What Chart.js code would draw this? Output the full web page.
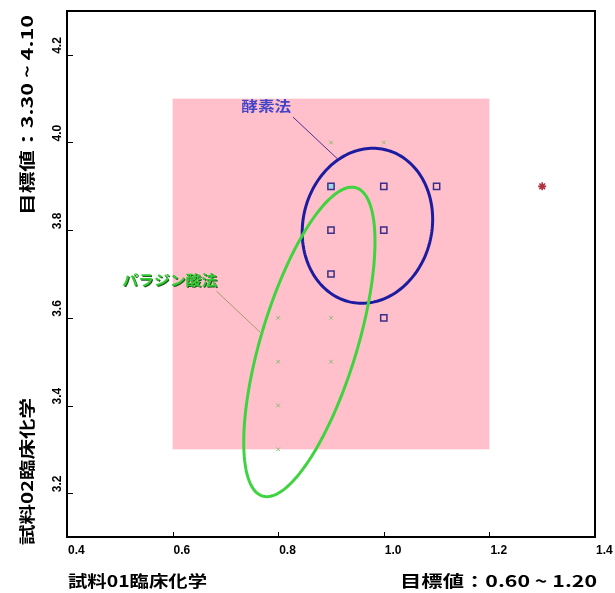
<!DOCTYPE html>
<html>
<head>
<meta charset="utf-8">
<script src="https://cdn.jsdelivr.net/npm/chart.js@4.4.1/dist/chart.umd.min.js"></script>
<style>
  html, body { margin: 0; padding: 0; background: #fff; }
  canvas { display: block; }
</style>
</head>
<body>
<canvas id="c" width="615" height="593"></canvas>
<script>
// Axis ticks
const xTicks = [0.4, 0.6, 0.8, 1.0, 1.2, 1.4];
const yTicks = [3.2, 3.4, 3.6, 3.8, 4.0, 4.2];

// 酵素法 results (試料01, 試料02)
const enzymeX = [0.9, 1.0, 1.1, 0.9, 1.0, 0.9, 1.0];
const enzymeY = [3.9, 3.9, 3.9, 3.8, 3.8, 3.7, 3.6];

// パラジン酸法 results
const acidX = [0.9, 1.0, 0.8, 0.9, 0.8, 0.9, 0.8, 0.8];
const acidY = [4.0, 4.0, 3.6, 3.6, 3.5, 3.5, 3.4, 3.3];

// other method
const otherX = [1.3];
const otherY = [3.9];

// target ranges
const targetX = [0.60, 1.20];
const targetY = [3.30, 4.10];

// distribution ellipses: centre, semi-axis to the top point, horizontal conjugate semi-axis
const enzymeEllipse = [0.969, 3.810, 0.0104, 0.1768, 0.1231];
const acidEllipse   = [0.859, 3.545, 0.0805, 0.3530, 0.0947];

const toPts = (xs, ys) => xs.map((v, i) => ({ x: v, y: ys[i] }));

const CJK = '"Noto Sans CJK JP", "Noto Sans", sans-serif';

// draws text squeezed/stretched to a given width
function fitText(ctx, text, x, y, width, rot) {
  const w = ctx.measureText(text).width;
  ctx.save();
  ctx.translate(x, y);
  if (rot) ctx.rotate(rot);
  ctx.scale(width / w, 1);
  ctx.fillText(text, 0, 0);
  ctx.restore();
}

function drawEllipse(ctx, xs, ys, e, color, lw) {
  const [cx, cy, ax, ay, bx] = e;
  ctx.save();
  ctx.strokeStyle = color;
  ctx.lineWidth = lw;
  ctx.beginPath();
  const n = 180;
  for (let i = 0; i <= n; i++) {
    const t = (i / n) * Math.PI * 2;
    const px = xs.getPixelForValue(cx + ax * Math.cos(t) + bx * Math.sin(t));
    const py = ys.getPixelForValue(cy + ay * Math.cos(t));
    if (i === 0) ctx.moveTo(px, py); else ctx.lineTo(px, py);
  }
  ctx.closePath();
  ctx.stroke();
  ctx.restore();
}

const overlay = {
  id: 'overlay',
  beforeDatasetsDraw(chart) {
    const { ctx, scales: { x, y } } = chart;
    const l = x.getPixelForValue(targetX[0]), r = x.getPixelForValue(targetX[1]);
    const t = y.getPixelForValue(targetY[1]), b = y.getPixelForValue(targetY[0]);
    ctx.save();
    ctx.fillStyle = '#ffc0cb';
    ctx.fillRect(l, t, r - l, b - t);
    ctx.restore();
  },
  afterDatasetsDraw(chart) {
    const { ctx, chartArea: a, scales: { x, y } } = chart;

    drawEllipse(ctx, x, y, enzymeEllipse, '#1c1ca0', 3);
    drawEllipse(ctx, x, y, acidEllipse, '#3fd43f', 3);

    // leader lines
    ctx.save();
    ctx.lineWidth = 1;
    ctx.strokeStyle = '#4a2f8f';
    ctx.beginPath();
    ctx.moveTo(x.getPixelForValue(0.828), y.getPixelForValue(4.058));
    ctx.lineTo(x.getPixelForValue(0.912), y.getPixelForValue(3.963));
    ctx.stroke();
    ctx.strokeStyle = '#a8986c';
    ctx.beginPath();
    ctx.moveTo(x.getPixelForValue(0.683), y.getPixelForValue(3.661));
    ctx.lineTo(x.getPixelForValue(0.766), y.getPixelForValue(3.567));
    ctx.stroke();

    // method labels
    ctx.font = 'bold 14px ' + CJK;
    ctx.textAlign = 'left';
    ctx.textBaseline = 'middle';
    ctx.fillStyle = '#4444c8';
    fitText(ctx, '酵素法', x.getPixelForValue(0.730), y.getPixelForValue(4.083), 50);
    ctx.fillStyle = '#1f5a1f';
    fitText(ctx, 'パラジン酸法', x.getPixelForValue(0.5047) + 1, y.getPixelForValue(3.686) + 1, 95);
    ctx.fillStyle = '#33cc33';
    fitText(ctx, 'パラジン酸法', x.getPixelForValue(0.5047), y.getPixelForValue(3.686), 95);
    ctx.restore();

    // frame
    ctx.save();
    ctx.strokeStyle = '#000';
    ctx.lineWidth = 2;
    ctx.strokeRect(a.left, a.top, a.right - a.left, a.bottom - a.top);

    // inward tick marks
    ctx.lineWidth = 1;
    ctx.beginPath();
    xTicks.forEach(v => {
      const px = Math.round(x.getPixelForValue(v)) + 0.5;
      ctx.moveTo(px, a.bottom);
      ctx.lineTo(px, a.bottom - 5);
    });
    yTicks.forEach(v => {
      const py = Math.round(y.getPixelForValue(v)) + 0.5;
      ctx.moveTo(a.left, py);
      ctx.lineTo(a.left + 6, py);
    });
    ctx.stroke();

    // tick labels
    ctx.fillStyle = '#000';
    ctx.font = 'bold 12px "Liberation Sans", Arial, sans-serif';
    ctx.textBaseline = 'middle';
    ctx.textAlign = 'left';
    xTicks.forEach(v => {
      ctx.fillText(v.toFixed(1), x.getPixelForValue(v) + 1, a.bottom + 14);
    });
    yTicks.forEach(v => {
      ctx.save();
      ctx.translate(a.left - 9, y.getPixelForValue(v) - 1);
      ctx.rotate(-Math.PI / 2);
      ctx.fillText(v.toFixed(1), 0, 0);
      ctx.restore();
    });

    // axis titles
    ctx.font = 'bold 16px ' + CJK;
    ctx.textBaseline = 'middle';
    ctx.textAlign = 'left';
    fitText(ctx, '試料01臨床化学', 68, 581, 139);
    fitText(ctx, '目標値：0.60 ~ 1.20', 400, 581, 197);
    fitText(ctx, '試料02臨床化学', 27, 545, 147, -Math.PI / 2);
    fitText(ctx, '目標値：3.30 ~ 4.10', 27, 215, 200, -Math.PI / 2);
    ctx.restore();
  }
};

new Chart(document.getElementById('c'), {
  type: 'scatter',
  data: {
    datasets: [
      {
        label: '酵素法',
        data: toPts(enzymeX, enzymeY),
        pointStyle: 'rect',
        pointRadius: 4.4,
        borderWidth: 1.5,
        borderColor: '#3a2f88',
        backgroundColor: enzymeX.map((v, i) => i === 0 ? '#9fd8e8' : 'rgba(0,0,0,0)')
      },
      {
        label: 'パラジン酸法',
        data: toPts(acidX, acidY),
        pointStyle: 'crossRot',
        pointRadius: 2.6,
        borderWidth: 1,
        borderColor: '#86be6a',
        backgroundColor: '#86be6a'
      },
      {
        label: 'その他',
        data: toPts(otherX, otherY),
        pointStyle: 'star',
        pointRadius: 4,
        borderWidth: 1.6,
        borderColor: '#b0303e',
        backgroundColor: '#b0303e'
      }
    ]
  },
  options: {
    responsive: false,
    devicePixelRatio: 1,
    animation: false,
    layout: { padding: { left: 67, top: 11, right: 20, bottom: 56 } },
    plugins: { legend: { display: false }, tooltip: { enabled: false } },
    scales: {
      x: { type: 'linear', min: 0.4, max: 1.4, display: false },
      y: { type: 'linear', min: 3.1, max: 4.3, display: false }
    }
  },
  plugins: [overlay]
});
</script>
</body>
</html>
